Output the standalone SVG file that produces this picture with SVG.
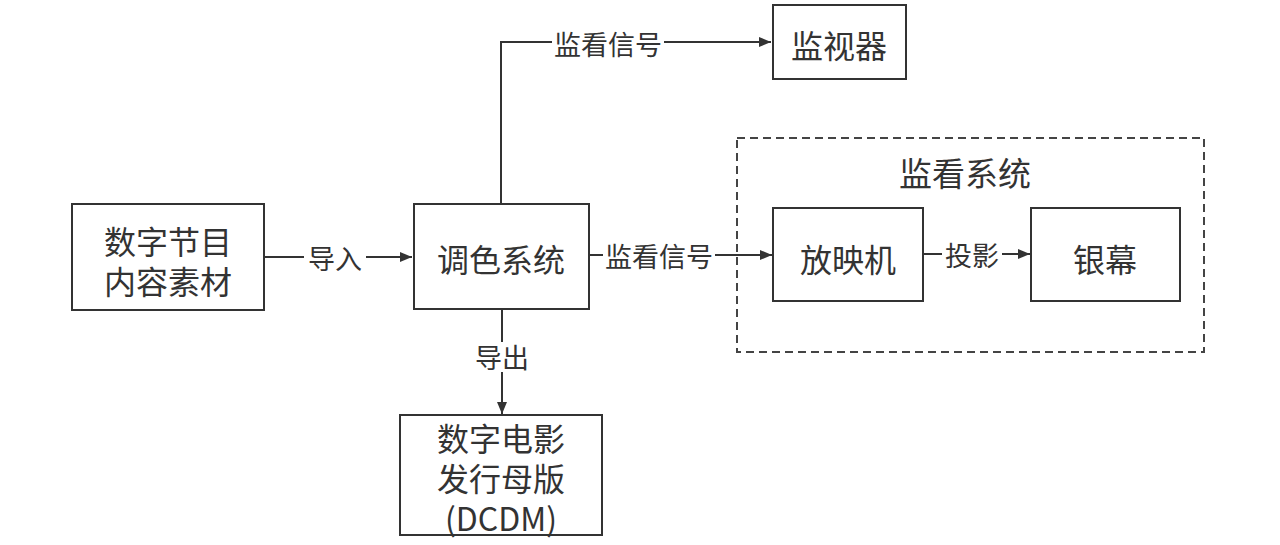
<svg xmlns="http://www.w3.org/2000/svg" width="1280" height="545" viewBox="0 0 1280 545">
<defs>
<marker id="arr" viewBox="0 0 12 10" refX="12" refY="5" markerWidth="12" markerHeight="10" markerUnits="userSpaceOnUse" orient="auto">
<path d="M0,0 L12,5 L0,10 Z" fill="#333"/>
</marker>
<style>
.box{fill:#fff;stroke:#333;stroke-width:2}
.dash{fill:none;stroke:#444;stroke-width:2;stroke-dasharray:8 5}
.t{font-family:"Noto Sans CJK SC","Liberation Sans",sans-serif;font-size:32px;fill:#333;text-anchor:middle;dominant-baseline:central}
.tt{font-family:"Noto Sans CJK SC","Liberation Sans",sans-serif;font-size:33px;fill:#333;text-anchor:middle;dominant-baseline:central}
.l{font-family:"Noto Sans CJK SC","Liberation Sans",sans-serif;font-size:27px;fill:#333;text-anchor:middle;dominant-baseline:central}
.ln{fill:none;stroke:#333;stroke-width:2}
.bg{fill:#fff}
</style>
</defs>
<rect width="1280" height="545" fill="#fff"/>
<g id="monitoring-system">
<rect class="dash" x="737" y="138" width="467" height="214"/>
<text class="tt" x="965" y="172">监看系统</text>
</g>
<g id="connectors">
<path class="ln" d="M264,257 H412" marker-end="url(#arr)"/>
<rect class="bg" x="304" y="242" width="62" height="30"/>
<text class="l" x="335" y="257">导入</text>
<path class="ln" d="M501,204 V42 H771" marker-end="url(#arr)"/>
<rect class="bg" x="552" y="28" width="112" height="30"/>
<text class="l" x="608" y="43">监看信号</text>
<path class="ln" d="M589,255 H772" marker-end="url(#arr)"/>
<rect class="bg" x="603" y="240" width="112" height="30"/>
<text class="l" x="659" y="255">监看信号</text>
<path class="ln" d="M923,254 H1030" marker-end="url(#arr)"/>
<rect class="bg" x="942" y="239" width="60" height="30"/>
<text class="l" x="972" y="254">投影</text>
<path class="ln" d="M502,309 V414" marker-end="url(#arr)"/>
<rect class="bg" x="472" y="342" width="60" height="30"/>
<text class="l" x="502" y="356">导出</text>
</g>
<g id="source">
<rect class="box" x="72" y="204" width="192" height="106"/>
<text class="t" x="168" y="240">数字节目</text>
<text class="t" x="168" y="280">内容素材</text>
</g>
<g id="grading">
<rect class="box" x="414" y="204" width="175" height="105"/>
<text class="t" x="501" y="258">调色系统</text>
</g>
<g id="monitor">
<rect class="box" x="773" y="5" width="133" height="74"/>
<text class="t" x="839" y="44">监视器</text>
</g>
<g id="projector">
<rect class="box" x="773" y="208" width="150" height="93"/>
<text class="t" x="848" y="258">放映机</text>
</g>
<g id="screen">
<rect class="box" x="1031" y="208" width="149" height="93"/>
<text class="t" x="1105" y="258">银幕</text>
</g>
<g id="dcdm">
<rect class="box" x="400" y="415" width="202" height="120"/>
<text class="t" x="501" y="437">数字电影</text>
<text class="t" x="501" y="477">发行母版</text>
<text class="t" x="501" y="517">(DCDM)</text>
</g>
</svg>
